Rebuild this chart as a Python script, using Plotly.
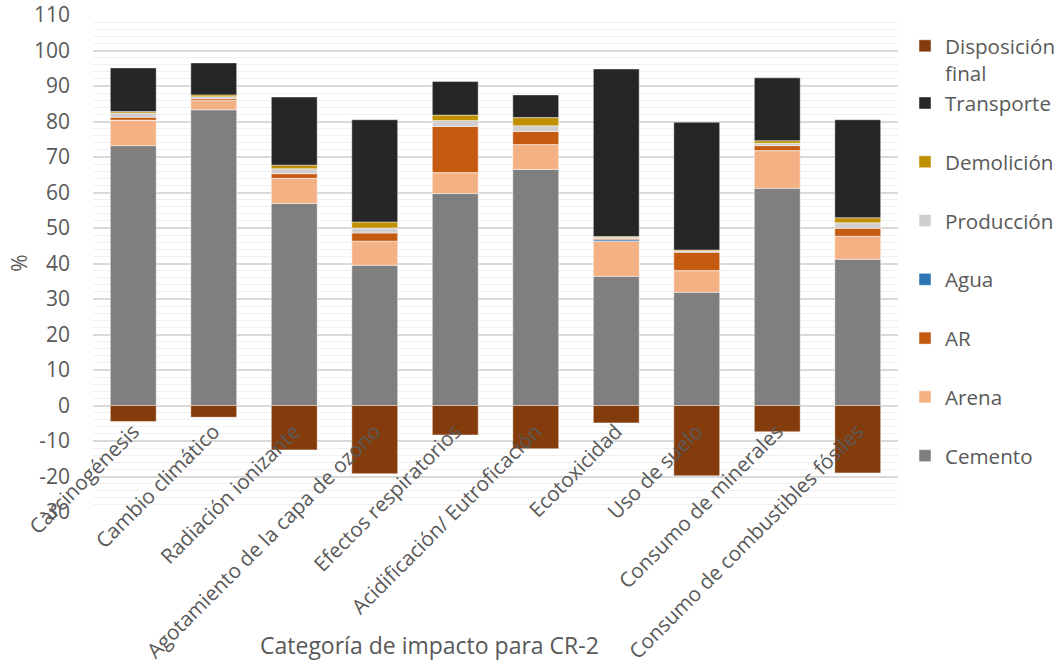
import plotly.graph_objects as go

# Categorías de impacto y contribución (%) de cada etapa / material
categorias = [
    "Carcinogénesis",
    "Cambio climático",
    "Radiación ionizante",
    "Agotamiento de la capa de ozono",
    "Efectos respiratorios",
    "Acidificación/ Eutroficación",
    "Ecotoxicidad",
    "Uso de suelo",
    "Consumo de minerales",
    "Consumo de combustibles fósiles",
]

cemento = [73.2, 83.3, 56.9, 39.5, 59.7, 66.5, 36.4, 31.9, 61.2, 41.2]
arena = [7.2, 2.6, 7.1, 6.8, 5.9, 7.0, 9.9, 6.1, 10.6, 6.5]
agua = [0.0, 0.0, 0.0, 0.0, 0.0, 0.0, 0.4, 0.0, 0.0, 0.0]
ar = [0.8, 0.5, 1.3, 2.3, 13.0, 3.7, 0.3, 5.2, 1.4, 2.2]
produccion = [1.2, 0.6, 1.4, 1.4, 1.7, 1.6, 0.3, 0.3, 0.7, 1.6]
demolicion = [0.4, 0.5, 1.0, 1.7, 1.5, 2.3, 0.3, 0.3, 0.7, 1.4]
transporte = [12.3, 9.0, 19.2, 28.8, 9.5, 6.4, 47.2, 36.0, 17.7, 27.6]
disposicion_final = [-4.5, -3.3, -12.5, -19.2, -8.3, -12.2, -4.9, -19.8, -7.4, -19.0]

y_ticks = [-30, -20, -10, 0, 10, 20, 30, 40, 50, 60, 70, 80, 90, 100, 110]
y_tick_labels = ["-30", "-20", "-10", "0", "10", "20", "30", "40", "50",
                 "60", "70", "80", "90", "100", "110"]

FONT = "Open Sans, Segoe UI, sans-serif"
TEXT_COLOR = "#595959"
FS = 21
LEG_FS = 20.6
XTICK_FS = 20.6

# (nombre, valores, color, orden en la leyenda)
series = [
    ("Cemento", cemento, "#7F7F7F", 8),
    ("Arena", arena, "#F4B183", 7),
    ("Agua", agua, "#2E75B6", 5),
    ("AR", ar, "#C55A11", 6),
    ("Producción", produccion, "#D0CECE", 4),
    ("Demolición", demolicion, "#BF9000", 3),
    ("Transporte", transporte, "#262626", 2),
]

BAR_EDGE = dict(color="rgba(255,255,255,0.45)", width=1)

fig = go.Figure()
for name, vals, color, rank in series:
    fig.add_trace(go.Bar(
        x=categorias, y=vals, name=name,
        marker=dict(color=color, line=BAR_EDGE),
        legendgroup=name, legendrank=rank, legend="legend",
    ))

fig.add_trace(go.Bar(
    x=categorias, y=disposicion_final, name="Disposición<br>final",
    marker=dict(color="#843C0C", line=BAR_EDGE),
    legendgroup="disp", legendrank=1, legend="legend2",
))

ZERO_POS = 30 / 140  # posición del eje de categorías (y = 0) en la altura del área

fig.update_layout(
    width=1057, height=667,
    margin=dict(l=93, r=159, t=15, b=155, autoexpand=False),
    barmode="relative",
    bargap=0.43,
    plot_bgcolor="white",
    paper_bgcolor="white",
    font=dict(family=FONT, size=FS, color=TEXT_COLOR),
    xaxis=dict(
        type="category",
        tickangle=-45,
        showgrid=False,
        showline=False,
        ticks="",
        anchor="free",
        position=ZERO_POS,
        automargin=False,
        tickfont=dict(family=FONT, size=XTICK_FS, color=TEXT_COLOR),
        ticklabelstandoff=9,
    ),
    yaxis=dict(
        range=[-30, 110],
        tickvals=y_ticks,
        ticktext=y_tick_labels,
        showgrid=True,
        gridcolor="#D9D9D9",
        gridwidth=1.5,
        zeroline=True,
        zerolinecolor="#D9D9D9",
        zerolinewidth=1.5,
        minor=dict(dtick=2, showgrid=True, gridcolor="#F0F0F0", gridwidth=1.2),
        automargin=False,
        ticklabelstandoff=22,
        tickfont=dict(family=FONT, size=FS, color=TEXT_COLOR),
    ),
    legend=dict(
        x=1.0087, xanchor="left", y=0.863, yanchor="top",
        traceorder="grouped", tracegroupgap=29,
        font=dict(family=FONT, size=LEG_FS, color=TEXT_COLOR),
        bgcolor="rgba(0,0,0,0)",
    ),
    legend2=dict(
        x=1.0087, xanchor="left", y=0.978, yanchor="top",
        valign="top",
        font=dict(family=FONT, size=LEG_FS, color=TEXT_COLOR),
        bgcolor="rgba(0,0,0,0)",
    ),
    annotations=[
        dict(text="Categoría de impacto para CR-2", xref="paper", yref="paper",
             x=0.4174, y=-0.268, xanchor="center", yanchor="middle", showarrow=False,
             font=dict(family=FONT, size=23, color=TEXT_COLOR)),
        dict(text="%", xref="paper", yref="paper", textangle=-90,
             x=-0.093, y=0.5, xanchor="center", yanchor="middle", showarrow=False,
             font=dict(family=FONT, size=FS, color=TEXT_COLOR)),
    ],
)

fig.write_html("out.html")
